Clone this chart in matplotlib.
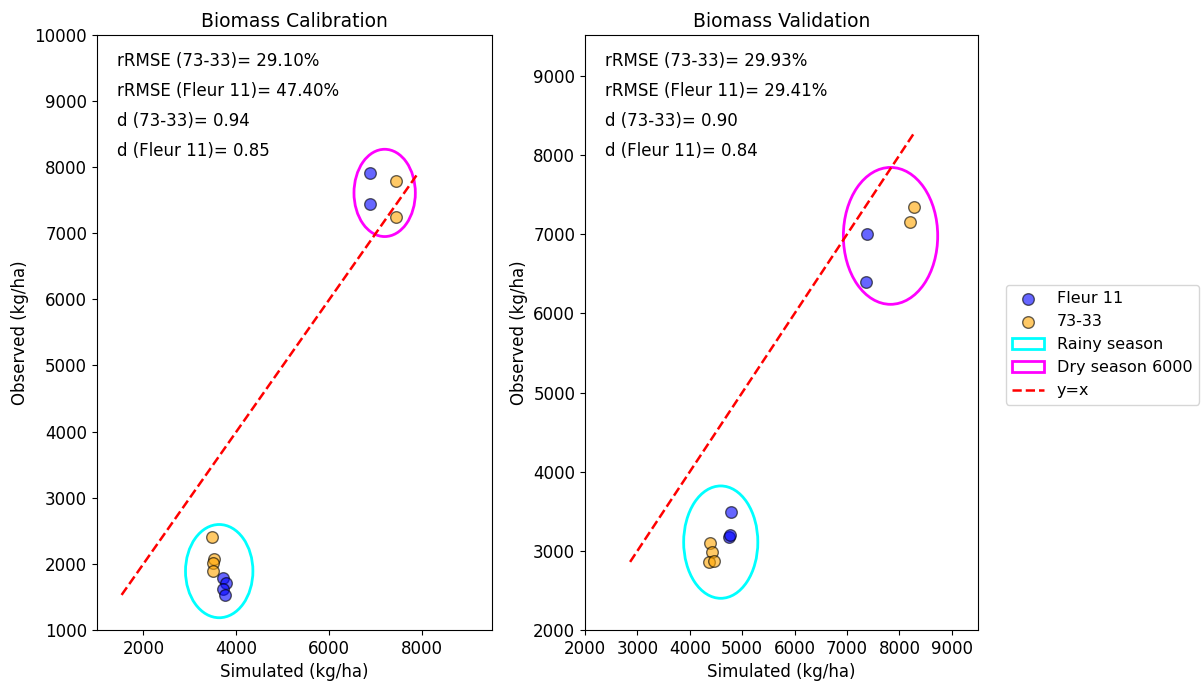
import matplotlib
matplotlib.use("Agg")
import matplotlib.pyplot as plt
from matplotlib.patches import Ellipse

# Calibration data (kg/ha)
cal_fleur_sim = [3720, 3770, 3720, 3750, 6880, 6880]
cal_fleur_obs = [1790, 1710, 1620, 1530, 7910, 7440]
cal_7333_sim = [3480, 3520, 3500, 3495, 7430, 7440]
cal_7333_obs = [2410, 2070, 2010, 1890, 7790, 7250]

# Validation data (kg/ha)
val_fleur_sim = [4790, 4750, 4770, 7390, 7370]
val_fleur_obs = [3490, 3170, 3200, 7000, 6400]
val_7333_sim = [4390, 4430, 4370, 4470, 8270, 8210]
val_7333_obs = [3100, 2990, 2860, 2870, 7350, 7150]

cal_stats = ["rRMSE (73-33)= 29.10%", "rRMSE (Fleur 11)= 47.40%",
             "d (73-33)= 0.94", "d (Fleur 11)= 0.85"]
val_stats = ["rRMSE (73-33)= 29.93%", "rRMSE (Fleur 11)= 29.41%",
             "d (73-33)= 0.90", "d (Fleur 11)= 0.84"]

# ellipses: (center x, center y, width, height)
cal_rainy = (3630, 1890, 1450, 1410)
cal_dry = (7190, 7610, 1320, 1320)
val_rainy = (4590, 3110, 1415, 1420)
val_dry = (7830, 6980, 1800, 1730)

plt.rcParams["font.size"] = 12

fig = plt.figure(figsize=(12.03, 6.84), dpi=100)
ax1 = fig.add_axes([0.0806, 0.079, 0.3284, 0.870])
ax2 = fig.add_axes([0.4863, 0.079, 0.3267, 0.870])


def draw_panel(ax, f_sim, f_obs, o_sim, o_obs, rainy, dry, stats, title):
    ax.scatter(f_sim, f_obs, s=70, color="blue", alpha=0.6, edgecolors="k",
               label="Fleur 11", zorder=3)
    ax.scatter(o_sim, o_obs, s=70, color="orange", alpha=0.6, edgecolors="k",
               label="73-33", zorder=3)
    ax.add_patch(Ellipse(rainy[:2], rainy[2], rainy[3], fill=False,
                         edgecolor="cyan", lw=2, label="Rainy season"))
    ax.add_patch(Ellipse(dry[:2], dry[2], dry[3], fill=False,
                         edgecolor="magenta", lw=2, label="Dry season 6000"))
    allv = f_sim + f_obs + o_sim + o_obs
    lo, hi = min(allv), max(allv)
    ax.plot([lo, hi], [lo, hi], "r--", lw=1.8, label="y=x")
    ax.text(0.05, 0.972, "\n".join(stats), transform=ax.transAxes,
            va="top", ha="left", linespacing=1.86)
    ax.set_title(title, fontsize=13.5)
    ax.set_xlabel("Simulated (kg/ha)")
    ax.set_ylabel("Observed (kg/ha)")


draw_panel(ax1, cal_fleur_sim, cal_fleur_obs, cal_7333_sim, cal_7333_obs,
           cal_rainy, cal_dry, cal_stats, "Biomass Calibration")
ax1.set_xlim(1000, 9500)
ax1.set_ylim(1000, 10000)
ax1.set_xticks([2000, 4000, 6000, 8000])

draw_panel(ax2, val_fleur_sim, val_fleur_obs, val_7333_sim, val_7333_obs,
           val_rainy, val_dry, val_stats, "Biomass Validation")
ax2.set_xlim(2000, 9500)
ax2.set_ylim(2000, 9520)
ax2.set_xticks(range(2000, 10000, 1000))

handles, labels = ax2.get_legend_handles_labels()
fig.legend(handles, labels, loc="center left",
           bbox_to_anchor=(0.832, 0.496), fontsize=11.5, borderaxespad=0.3)

fig.savefig("out.png", dpi=100)
